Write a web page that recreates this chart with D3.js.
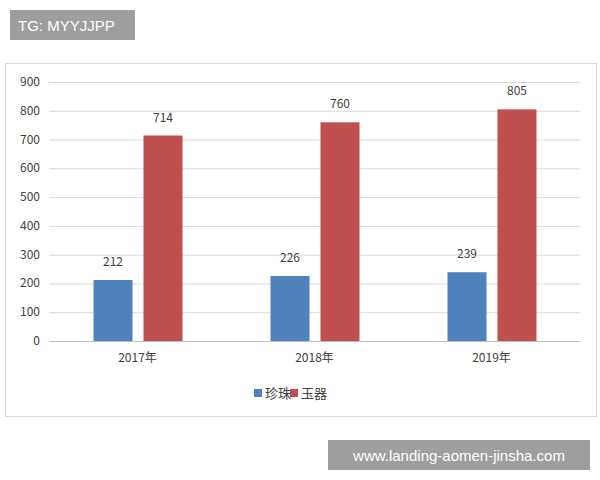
<!DOCTYPE html>
<html><head><meta charset="utf-8">
<script src="https://cdn.jsdelivr.net/npm/d3@7.9.0/dist/d3.min.js"></script>
<style>body{margin:0;background:#fff}svg{font-family:"Noto Sans CJK SC","Noto Sans",sans-serif}</style>
</head><body><svg width="600" height="480"></svg>
<script>
const years = ["2017年", "2018年", "2019年"];
const series = ["珍珠", "玉器"];
const pearl = [212, 226, 239];
const jade = [714, 760, 805];
const yTicks = [0, 100, 200, 300, 400, 500, 600, 700, 800, 900];
const colors = ["#4f81bd", "#c0504d"];

const svg = d3.select("svg");
svg.append("rect").attr("x", 5.5).attr("y", 63.5).attr("width", 591).attr("height", 353)
  .attr("fill", "#fff").attr("stroke", "#d9d9d9");

const x = d3.scaleBand().domain(years).range([49, 580]);
const y = d3.scaleLinear().domain([0, 900]).range([341, 82]);

svg.append("g").selectAll("line").data(yTicks).join("line")
  .attr("x1", 49).attr("x2", 580).attr("y1", d => y(d) + 0.5).attr("y2", d => y(d) + 0.5)
  .attr("stroke", d => d === 0 ? "#bfbfbf" : "#d9d9d9");
svg.append("g").selectAll("text").data(yTicks).join("text")
  .attr("x", 40).attr("y", d => y(d) + 4).attr("text-anchor", "end")
  .attr("font-size", 12).attr("fill", "#404040").text(d => d);

const data = [pearl, jade];
const bw = 39, offs = [-44, 6];
data.forEach((vals, s) => {
  const g = svg.append("g");
  g.selectAll("rect").data(vals).join("rect")
    .attr("x", (d, i) => x(years[i]) + x.bandwidth() / 2 + offs[s])
    .attr("y", d => y(d)).attr("width", bw).attr("height", d => y(0) - y(d))
    .attr("fill", colors[s]);
  g.selectAll("text").data(vals).join("text")
    .attr("x", (d, i) => x(years[i]) + x.bandwidth() / 2 + offs[s] + bw / 2)
    .attr("y", d => y(d) - 14).attr("text-anchor", "middle")
    .attr("font-size", 12).attr("fill", "#404040").text(d => d);
});

svg.append("g").selectAll("text").data(years).join("text")
  .attr("x", d => x(d) + x.bandwidth() / 2).attr("y", 362).attr("text-anchor", "middle")
  .attr("font-size", 12).attr("fill", "#404040").text(d => d);

const leg = svg.append("g").selectAll("g").data(series).join("g")
  .attr("transform", (d, i) => `translate(${254 + i * 36},389)`);
leg.append("rect").attr("width", 8).attr("height", 8).attr("fill", (d, i) => colors[i]);
leg.append("text").attr("x", 11).attr("y", 9).attr("font-size", 13).attr("fill", "#404040").text(d => d);

svg.append("rect").attr("x", 10).attr("y", 10).attr("width", 125).attr("height", 30).attr("fill", "#9e9e9e");
svg.append("text").attr("x", 18).attr("y", 31).attr("font-size", 15).attr("fill", "#fff")
  .attr("font-family", "Liberation Sans, sans-serif").text("TG: MYYJJPP");
svg.append("rect").attr("x", 328).attr("y", 440).attr("width", 262).attr("height", 30).attr("fill", "#9e9e9e");
svg.append("text").attr("x", 459).attr("y", 461).attr("text-anchor", "middle").attr("font-size", 15).attr("fill", "#fff")
  .attr("font-family", "Liberation Sans, sans-serif").text("www.landing-aomen-jinsha.com");
</script></body></html>
